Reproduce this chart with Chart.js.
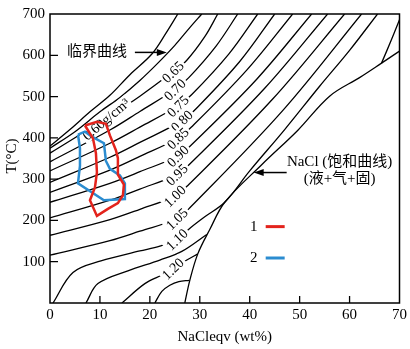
<!DOCTYPE html>
<html>
<head>
<meta charset="utf-8">
<script src="https://cdn.jsdelivr.net/npm/chart.js@4.4.0/dist/chart.umd.min.js"></script>
<style>
  html, body { margin: 0; padding: 0; background: #fff; }
</style>
</head>
<body>
<canvas id="phaseChart" width="410" height="349"></canvas>
<script>
// ===== data: [NaCl wt%, T °C] =====
const criticalCurve = [[0,380],[4,420],[8,463],[12,503],[16,553],[20.4,603],[23.2,653],[25.6,700]];
const iso060 = [[0,375],[5,415],[10,463],[14,498],[18,539],[21.6,581],[25,624],[28,667],[30.4,700]];
const iso065 = [[0,363],[12,453],[18,501],[24.6,560],[27.4,588],[31,645],[33.6,700]];
const iso070 = [[0,342],[12,419],[18,464],[25,517],[27.8,546],[33.3,623],[37.6,700]];
const iso075 = [[0,320],[12,387],[18,426],[25.6,477],[28.4,505],[35.8,603],[41.6,700]];
const iso080 = [[0,292],[12,353],[18,389],[26.4,441],[29.2,470],[38,585],[45,700]];
const iso085 = [[0,268],[12,322],[18,355],[25.6,399],[28.4,427],[39.4,564],[48.6,700]];
const iso090 = [[0,244],[12,290],[18,318],[25.6,356],[28.4,384],[41.4,542],[52.4,700]];
const iso095 = [[0,206],[12,249],[18,276],[25.4,311],[28.2,339],[43,520],[55.6,700]];
const iso100 = [[0,164],[12,202],[18,227],[25,259],[27.8,287],[44.6,494],[59,700]];
const iso105 = [[0,116],[12,151],[18,174],[25.4,204],[28.2,233],[46.6,466],[62.4,700]];
const iso110 = [[0.6,0],[4.6,74],[10.2,102],[18,126],[22,138],[25.4,154],[28.2,183],[31,209],[35,244],[40,320],[47,420],[54,525],[60,612],[65.6,700]];
const iso115 = [[7.2,0],[9.6,47],[15.6,78],[22,104],[26.4,125],[31.4,166]];
const iso120 = [[14.4,0],[19,47],[22.6,69],[24.6,83],[27.4,104],[29.6,119]];
const isoLow = [[21,0],[22.4,28],[24,43],[25.8,52],[27.9,55]];
const saturationCurve = [[27,0],[28,55],[29.6,119],[32,178],[35,244],[42.4,335],[49.6,418],[56,501],[62,546],[66.4,581],[70,610]];
const cornerLine = [[66.4,581],[68.4,638],[70,686]];

// fluid inclusion fields (1 = red, 2 = blue)
const group1 = [[7,430],[9.4,439],[11.2,434],[12,406],[13.2,370],[13.6,351],[13.6,311],[14.8,287],[14.6,261],[13.6,242],[11.6,228],[9.4,211],[8,249],[9,280],[9.4,316],[9.2,363],[8.6,399],[7,430]];
const group2 = [[5.6,408],[7,415],[8.4,403],[10.8,387],[11.2,344],[12,325],[14,309],[15,290],[15,252],[10.8,249],[5.6,290],[6,332],[6,375],[5.6,408]];

// density labels (g/cm3)
const isoLabels = ['0.65','0.70','0.75','0.80','0.85','0.90','0.95','1.00','1.05','1.10','1.20'];
const isoLabelAt = [[24.6,560],[25,517],[25.6,477],[26.4,441],[25.6,399],[25.6,356],[25.4,311],[25,259],[25.4,204],[25.4,154],[24.6,83]];

const xTicks = [0,10,20,30,40,50,60,70];
const yTicks = [0,100,200,300,400,500,600,700];

const serif = '"Liberation Serif", "Times New Roman", "Noto Sans CJK SC", serif';
const cjk = '"Liberation Serif", "Noto Sans CJK SC", serif';

function toPts(arr) {
    return arr.map(p => ({ x: p[0], y: p[1] }));
}

function curve(arr) {
    return {
        data: toPts(arr),
        showLine: true,
        borderColor: '#000',
        borderWidth: 1.3,
        pointRadius: 0,
        tension: 0.35,
        fill: false
    };
}

function polygon(arr, color) {
    return {
        data: toPts(arr),
        showLine: true,
        borderColor: color,
        borderWidth: 2.5,
        pointRadius: 0,
        tension: 0,
        fill: false,
        isPolygon: true
    };
}

// Texto con fondo blanco (corta la línea como en la figura)
function boxedText(ctx, text, x, y, angle, font) {
    ctx.save();
    ctx.translate(x, y);
    ctx.rotate(angle * Math.PI / 180);
    ctx.font = font;
    const w = ctx.measureText(text).width;
    ctx.fillStyle = '#fff';
    ctx.fillRect(-w / 2 - 2, -7, w + 4, 14);
    ctx.fillStyle = '#000';
    ctx.textAlign = 'center';
    ctx.textBaseline = 'middle';
    ctx.fillText(text, 0, 1);
    ctx.restore();
}

function arrow(ctx, x1, y1, x2, y2) {
    const a = Math.atan2(y2 - y1, x2 - x1);
    ctx.save();
    ctx.strokeStyle = '#000';
    ctx.fillStyle = '#000';
    ctx.lineWidth = 1.5;
    ctx.beginPath();
    ctx.moveTo(x1, y1);
    ctx.lineTo(x2 - 6 * Math.cos(a), y2 - 6 * Math.sin(a));
    ctx.stroke();
    ctx.beginPath();
    ctx.moveTo(x2, y2);
    ctx.lineTo(x2 - 10 * Math.cos(a) + 3.5 * Math.sin(a), y2 - 10 * Math.sin(a) - 3.5 * Math.cos(a));
    ctx.lineTo(x2 - 10 * Math.cos(a) - 3.5 * Math.sin(a), y2 - 10 * Math.sin(a) + 3.5 * Math.cos(a));
    ctx.closePath();
    ctx.fill();
    ctx.restore();
}

let labelsDrawn = false;

const decorPlugin = {
    id: 'decor',
    beforeDraw() {
        labelsDrawn = false;
    },
    beforeDatasetDraw(chart, args) {
        if (labelsDrawn || !chart.data.datasets[args.index].isPolygon) return;
        labelsDrawn = true;
        const ctx = chart.ctx;
        const xs = chart.scales.x, ys = chart.scales.y;
        const font = '14px ' + serif;
        isoLabels.forEach((t, i) => {
            boxedText(ctx, t, xs.getPixelForValue(isoLabelAt[i][0]), ys.getPixelForValue(isoLabelAt[i][1]), -44, font);
        });
        boxedText(ctx, '0.60g/cm³', xs.getPixelForValue(11.2), ys.getPixelForValue(445), -40, font);
    },
    afterDraw(chart) {
        const ctx = chart.ctx;
        const a = chart.chartArea;
        const xs = chart.scales.x, ys = chart.scales.y;
        ctx.save();
        // marco
        ctx.strokeStyle = '#000';
        ctx.lineWidth = 1.5;
        ctx.strokeRect(a.left, a.top, a.right - a.left, a.bottom - a.top);
        // marcas hacia dentro
        ctx.lineWidth = 1.3;
        ctx.beginPath();
        xTicks.slice(1, -1).forEach(v => {
            const px = xs.getPixelForValue(v);
            ctx.moveTo(px, a.bottom);
            ctx.lineTo(px, a.bottom - 7);
        });
        yTicks.slice(1, -1).forEach(v => {
            const py = ys.getPixelForValue(v);
            ctx.moveTo(a.left, py);
            ctx.lineTo(a.left + 8, py);
        });
        ctx.stroke();

        // anotaciones
        ctx.fillStyle = '#000';
        ctx.font = '15px ' + cjk;
        ctx.textAlign = 'center';
        ctx.textBaseline = 'middle';
        ctx.fillText('临界曲线', xs.getPixelForValue(9.4), ys.getPixelForValue(607));
        arrow(ctx, xs.getPixelForValue(17), ys.getPixelForValue(607), xs.getPixelForValue(23.4), ys.getPixelForValue(607));

        ctx.font = '15px ' + cjk;
        ctx.fillText('NaCl (饱和曲线)', xs.getPixelForValue(58), ys.getPixelForValue(342));
        ctx.fillText('(液+气+固)', xs.getPixelForValue(58), ys.getPixelForValue(299));
        arrow(ctx, xs.getPixelForValue(47.4), ys.getPixelForValue(316), xs.getPixelForValue(40.8), ys.getPixelForValue(316));

        // leyenda
        ctx.font = '15px ' + serif;
        ctx.fillText('1', xs.getPixelForValue(40.8), ys.getPixelForValue(185));
        ctx.fillText('2', xs.getPixelForValue(40.8), ys.getPixelForValue(109));
        ctx.lineWidth = 3;
        ctx.strokeStyle = '#e3231c';
        ctx.beginPath();
        ctx.moveTo(xs.getPixelForValue(43.2), ys.getPixelForValue(185));
        ctx.lineTo(xs.getPixelForValue(47), ys.getPixelForValue(185));
        ctx.stroke();
        ctx.strokeStyle = '#2b8cd0';
        ctx.beginPath();
        ctx.moveTo(xs.getPixelForValue(43.2), ys.getPixelForValue(109));
        ctx.lineTo(xs.getPixelForValue(47), ys.getPixelForValue(109));
        ctx.stroke();

        // títulos de ejes
        ctx.font = '15px ' + serif;
        ctx.fillText('NaCleqv (wt%)', (a.left + a.right) / 2, 337);
        ctx.save();
        ctx.translate(12, 156);
        ctx.rotate(-Math.PI / 2);
        ctx.fillText('T(°C)', 0, 0);
        ctx.restore();
        ctx.restore();
    }
};

const ctx = document.getElementById('phaseChart');

new Chart(ctx, {
    type: 'scatter',
    data: {
        datasets: [
            polygon(group1, '#e3231c'),
            polygon(group2, '#2b8cd0'),
            curve(criticalCurve),
            curve(iso060),
            curve(iso065),
            curve(iso070),
            curve(iso075),
            curve(iso080),
            curve(iso085),
            curve(iso090),
            curve(iso095),
            curve(iso100),
            curve(iso105),
            curve(iso110),
            curve(iso115),
            curve(iso120),
            curve(isoLow),
            curve(saturationCurve),
            curve(cornerLine)
        ]
    },
    options: {
        responsive: false,
        animation: false,
        devicePixelRatio: 1,
        layout: { padding: { top: 8, right: 10, left: 0, bottom: 0 } },
        plugins: {
            legend: { display: false },
            tooltip: { enabled: false }
        },
        scales: {
            x: {
                type: 'linear',
                min: 0,
                max: 70,
                afterBuildTicks: s => { s.ticks = xTicks.map(v => ({ value: v })); },
                afterFit: s => { s.height = 46; },
                grid: { display: false, drawTicks: false },
                border: { display: false },
                ticks: {
                    padding: 3,
                    color: '#000',
                    font: { family: serif, size: 15 },
                    maxRotation: 0
                }
            },
            y: {
                type: 'linear',
                min: 0,
                max: 700,
                afterBuildTicks: s => { s.ticks = yTicks.map(v => ({ value: v })); },
                afterFit: s => { s.width = 50; },
                grid: { display: false, drawTicks: false },
                border: { display: false },
                ticks: {
                    padding: 5,
                    color: '#000',
                    font: { family: serif, size: 15 },
                    callback: v => (v === 0 ? '' : v)
                }
            }
        }
    },
    plugins: [decorPlugin]
});
</script>
</body>
</html>
